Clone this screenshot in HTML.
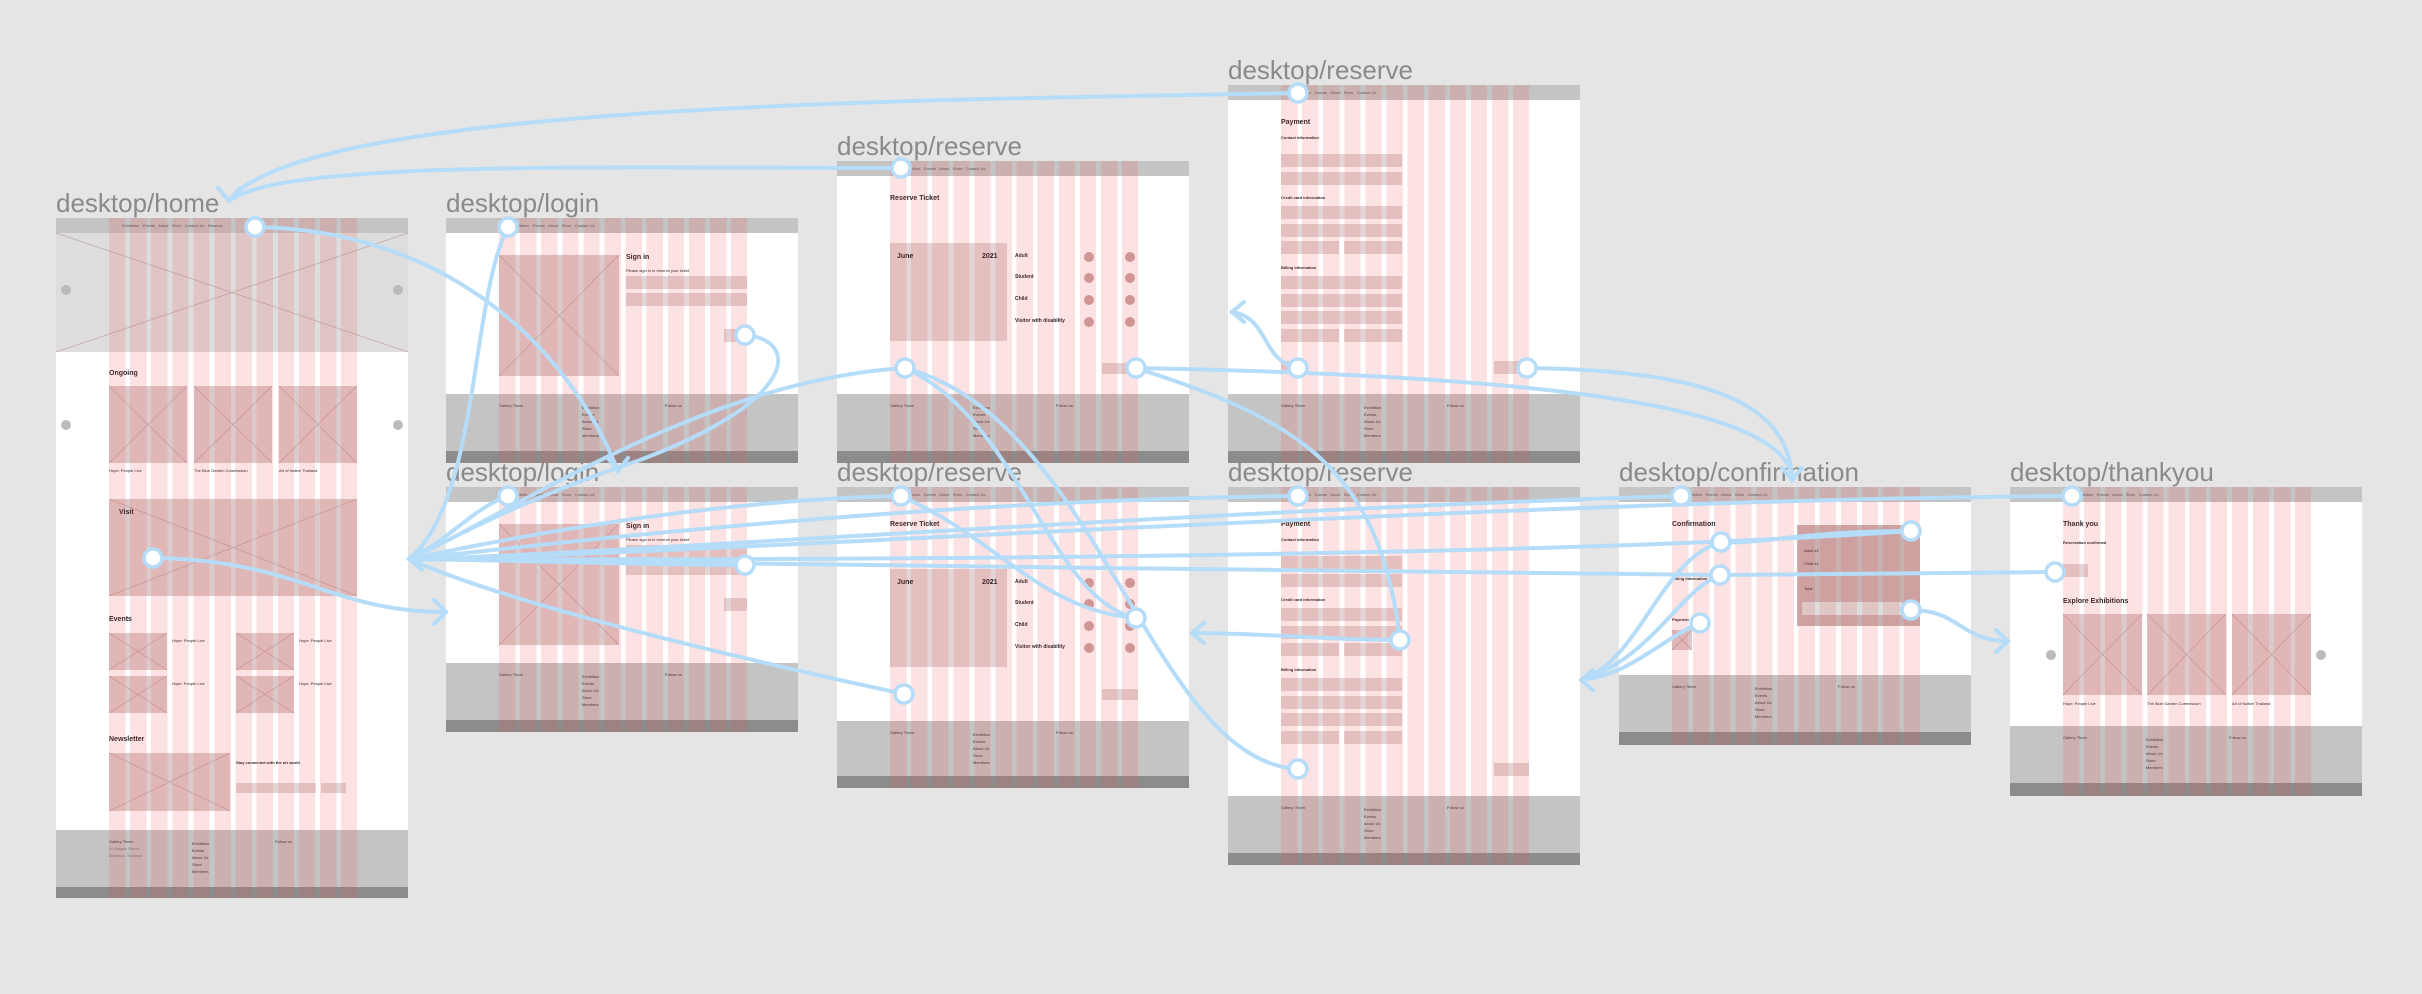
<!DOCTYPE html>
<html><head><meta charset="utf-8"><style>
*{margin:0;padding:0;box-sizing:border-box}
body{width:2422px;height:994px;background:#e5e5e5;position:relative;overflow:hidden;font-family:"Liberation Sans",sans-serif}
.lbl{position:absolute;font-size:26px;color:#8a8a8a;line-height:1}
.f{position:absolute;background:#fff;overflow:hidden}
.f>div{position:absolute}
.h{left:0;top:0;right:0;height:15px;background:#c4c4c4}
.ft{left:0;right:0;background:#c4c4c4}
.bb{left:0;right:0;background:#8c8c8c}
.g{top:0;bottom:0;left:53px;width:248px;background:repeating-linear-gradient(90deg,rgba(240,80,80,.17) 0 16.3px,transparent 16.3px 21.1px);z-index:5}
.b{background:#e3d5d5}
.x{background-color:#dccaca;background-image:linear-gradient(to top right,transparent calc(50% - .6px),#b99 50%,transparent calc(50% + .6px)),linear-gradient(to bottom right,transparent calc(50% - .6px),#b99 50%,transparent calc(50% + .6px))}
.t{font-size:7px;font-weight:bold;color:#222;white-space:nowrap}
.s{font-size:4px;color:#666;white-space:nowrap}
.c{width:10px;height:10px;border-radius:50%;background:#bbb}
.nav{top:5px;font-size:4px;color:#555;white-space:nowrap}
.fs{font-size:4px;color:#333;white-space:nowrap;line-height:7px;z-index:2}
</style></head><body>

<div class="lbl" style="left:56px;top:190px">desktop/home</div>
<div class="lbl" style="left:446px;top:190px">desktop/login</div>
<div class="lbl" style="left:446px;top:459px">desktop/login</div>
<div class="lbl" style="left:837px;top:133px">desktop/reserve</div>
<div class="lbl" style="left:837px;top:459px">desktop/reserve</div>
<div class="lbl" style="left:1228px;top:57px">desktop/reserve</div>
<div class="lbl" style="left:1228px;top:459px">desktop/reserve</div>
<div class="lbl" style="left:1619px;top:459px">desktop/confirmation</div>
<div class="lbl" style="left:2010px;top:459px">desktop/thankyou</div>

<!-- HOME -->
<div class="f" style="left:56px;top:218px;width:352px;height:680px">
<div class="h"></div><div class="nav" style="left:66px">Exhibition &nbsp; Events &nbsp; About &nbsp; Store &nbsp; Contact Us &nbsp; Reserve</div>
<div class="x" style="left:0;top:15px;width:352px;height:119px;background-color:#ddd"></div>
<div class="c" style="left:5px;top:67px"></div><div class="c" style="left:337px;top:67px"></div>
<div class="t" style="left:53px;top:152px">Ongoing</div>
<div class="x" style="left:53px;top:168px;width:78px;height:77px"></div>
<div class="x" style="left:138px;top:168px;width:78px;height:77px"></div>
<div class="x" style="left:223px;top:168px;width:78px;height:77px"></div>
<div class="c" style="left:5px;top:202px"></div><div class="c" style="left:337px;top:202px"></div>
<div class="s" style="left:53px;top:250px;color:#222">Hope: People Live</div>
<div class="s" style="left:138px;top:250px;color:#222">The Blue Garden Commission</div>
<div class="s" style="left:223px;top:250px;color:#222">Art of Native Thailand</div>
<div class="x" style="left:53px;top:281px;width:248px;height:97px"></div>
<div class="t" style="left:63px;top:291px">Visit</div>
<div class="t" style="left:53px;top:398px">Events</div>
<div class="x" style="left:53px;top:415px;width:58px;height:37px"></div>
<div class="x" style="left:53px;top:458px;width:58px;height:37px"></div>
<div class="x" style="left:180px;top:415px;width:58px;height:37px"></div>
<div class="x" style="left:180px;top:458px;width:58px;height:37px"></div>
<div class="s" style="left:116px;top:420px;color:#222">Hope: People Live</div>
<div class="s" style="left:243px;top:420px;color:#222">Hope: People Live</div>
<div class="s" style="left:116px;top:463px;color:#222">Hope: People Live</div>
<div class="s" style="left:243px;top:463px;color:#222">Hope: People Live</div>
<div class="t" style="left:53px;top:518px">Newsletter</div>
<div class="x" style="left:53px;top:535px;width:121px;height:58px"></div>
<div class="s" style="left:180px;top:542px;color:#222;font-weight:bold">Stay connected with the art world</div>
<div class="b" style="left:180px;top:565px;width:80px;height:10px"></div>
<div class="b" style="left:265px;top:565px;width:25px;height:10px"></div>
<div class="ft" style="top:612px;height:57px"></div><div class="bb" style="top:669px;height:11px"></div>
<div class="fs" style="left:53px;top:620px">Gallery Thorn<br><span style="color:#777">95 Sayam Street<br>Bangkok, Thailand</span></div>
<div class="fs" style="left:136px;top:622px">Exhibition<br>Events<br>About Us<br>Store<br>Members</div>
<div class="fs" style="left:219px;top:620px">Follow us</div>
<div class="g"></div></div>

<!-- LOGIN 1 -->
<div class="f" style="left:446px;top:218px;width:352px;height:245px">
<div class="h"></div><div class="nav" style="left:66px">Exhibition &nbsp; Events &nbsp; About &nbsp; Store &nbsp; Contact Us</div>
<div class="x" style="left:53px;top:37px;width:120px;height:121px"></div>
<div class="t" style="left:180px;top:36px">Sign in</div>
<div class="s" style="left:180px;top:50px;color:#222">Please sign in to reserve your ticket</div>
<div class="b" style="left:180px;top:58px;width:121px;height:13px"></div>
<div class="b" style="left:180px;top:75px;width:121px;height:13px"></div>
<div class="b" style="left:278px;top:111px;width:23px;height:13px"></div>
<div class="ft" style="top:176px;height:57px"></div><div class="bb" style="top:233px;height:12px"></div>
<div class="fs" style="left:53px;top:184px">Gallery Thorn</div><div class="fs" style="left:136px;top:186px">Exhibition<br>Events<br>About Us<br>Store<br>Members</div><div class="fs" style="left:219px;top:184px">Follow us</div>
<div class="g"></div></div>

<!-- LOGIN 2 -->
<div class="f" style="left:446px;top:487px;width:352px;height:245px">
<div class="h"></div><div class="nav" style="left:66px">Exhibition &nbsp; Events &nbsp; About &nbsp; Store &nbsp; Contact Us</div>
<div class="x" style="left:53px;top:37px;width:120px;height:121px"></div>
<div class="t" style="left:180px;top:36px">Sign in</div>
<div class="s" style="left:180px;top:50px;color:#222">Please sign in to reserve your ticket</div>
<div class="b" style="left:180px;top:58px;width:121px;height:13px"></div>
<div class="b" style="left:180px;top:75px;width:121px;height:13px"></div>
<div class="b" style="left:278px;top:111px;width:23px;height:13px"></div>
<div class="ft" style="top:176px;height:57px"></div><div class="bb" style="top:233px;height:12px"></div>
<div class="fs" style="left:53px;top:184px">Gallery Thorn</div><div class="fs" style="left:136px;top:186px">Exhibition<br>Events<br>About Us<br>Store<br>Members</div><div class="fs" style="left:219px;top:184px">Follow us</div>
<div class="g"></div></div>

<!-- RESERVE 1 -->
<div class="f" style="left:837px;top:161px;width:352px;height:302px">
<div class="h"></div><div class="nav" style="left:66px">Exhibition &nbsp; Events &nbsp; About &nbsp; Store &nbsp; Contact Us</div>
<div class="t" style="left:53px;top:34px">Reserve Ticket</div>
<div class="b" style="left:53px;top:82px;width:117px;height:98px"></div>
<div class="t" style="left:60px;top:92px">June</div><div class="t" style="left:145px;top:92px">2021</div>
<div class="t" style="left:178px;top:92px;font-size:5px">Adult</div>
<div class="t" style="left:178px;top:113px;font-size:5px">Student</div>
<div class="t" style="left:178px;top:135px;font-size:5px">Child</div>
<div class="t" style="left:178px;top:157px;font-size:5px">Visitor with disability</div>
<div class="c" style="left:247px;top:91px;background:#c9a3a3"></div><div class="c" style="left:288px;top:91px;background:#c9a3a3"></div>
<div class="c" style="left:247px;top:112px;background:#c9a3a3"></div><div class="c" style="left:288px;top:112px;background:#c9a3a3"></div>
<div class="c" style="left:247px;top:134px;background:#c9a3a3"></div><div class="c" style="left:288px;top:134px;background:#c9a3a3"></div>
<div class="c" style="left:247px;top:156px;background:#c9a3a3"></div><div class="c" style="left:288px;top:156px;background:#c9a3a3"></div>
<div class="b" style="left:265px;top:202px;width:36px;height:11px"></div>
<div class="ft" style="top:233px;height:57px"></div><div class="bb" style="top:290px;height:12px"></div>
<div class="fs" style="left:53px;top:241px">Gallery Thorn</div><div class="fs" style="left:136px;top:243px">Exhibition<br>Events<br>About Us<br>Store<br>Members</div><div class="fs" style="left:219px;top:241px">Follow us</div>
<div class="g"></div></div>

<!-- RESERVE 2 -->
<div class="f" style="left:837px;top:487px;width:352px;height:301px">
<div class="h"></div><div class="nav" style="left:66px">Exhibition &nbsp; Events &nbsp; About &nbsp; Store &nbsp; Contact Us</div>
<div class="t" style="left:53px;top:34px">Reserve Ticket</div>
<div class="b" style="left:53px;top:82px;width:117px;height:98px"></div>
<div class="t" style="left:60px;top:92px">June</div><div class="t" style="left:145px;top:92px">2021</div>
<div class="t" style="left:178px;top:92px;font-size:5px">Adult</div>
<div class="t" style="left:178px;top:113px;font-size:5px">Student</div>
<div class="t" style="left:178px;top:135px;font-size:5px">Child</div>
<div class="t" style="left:178px;top:157px;font-size:5px">Visitor with disability</div>
<div class="c" style="left:247px;top:91px;background:#c9a3a3"></div><div class="c" style="left:288px;top:91px;background:#c9a3a3"></div>
<div class="c" style="left:247px;top:112px;background:#c9a3a3"></div><div class="c" style="left:288px;top:112px;background:#c9a3a3"></div>
<div class="c" style="left:247px;top:134px;background:#c9a3a3"></div><div class="c" style="left:288px;top:134px;background:#c9a3a3"></div>
<div class="c" style="left:247px;top:156px;background:#c9a3a3"></div><div class="c" style="left:288px;top:156px;background:#c9a3a3"></div>
<div class="b" style="left:265px;top:202px;width:36px;height:11px"></div>
<div class="ft" style="top:234px;height:55px"></div><div class="bb" style="top:289px;height:12px"></div>
<div class="fs" style="left:53px;top:242px">Gallery Thorn</div><div class="fs" style="left:136px;top:244px">Exhibition<br>Events<br>About Us<br>Store<br>Members</div><div class="fs" style="left:219px;top:242px">Follow us</div>
<div class="g"></div></div>

<!-- PAYMENT 1 -->
<div class="f" style="left:1228px;top:85px;width:352px;height:378px">
<div class="h"></div><div class="nav" style="left:66px">Exhibition &nbsp; Events &nbsp; About &nbsp; Store &nbsp; Contact Us</div>
<div class="t" style="left:53px;top:34px">Payment</div>
<div class="s" style="left:53px;top:50px;color:#222;font-weight:bold">Contact information</div>
<div class="b" style="left:53px;top:69px;width:121px;height:13px"></div>
<div class="b" style="left:53px;top:87px;width:121px;height:13px"></div>
<div class="s" style="left:53px;top:110px;color:#222;font-weight:bold">Credit card information</div>
<div class="b" style="left:53px;top:121px;width:121px;height:13px"></div>
<div class="b" style="left:53px;top:139px;width:121px;height:13px"></div>
<div class="b" style="left:53px;top:156px;width:58px;height:13px"></div><div class="b" style="left:116px;top:156px;width:58px;height:13px"></div>
<div class="s" style="left:53px;top:180px;color:#222;font-weight:bold">Billing information</div>
<div class="b" style="left:53px;top:191px;width:121px;height:13px"></div>
<div class="b" style="left:53px;top:209px;width:121px;height:13px"></div>
<div class="b" style="left:53px;top:226px;width:121px;height:13px"></div>
<div class="b" style="left:53px;top:244px;width:58px;height:13px"></div><div class="b" style="left:116px;top:244px;width:58px;height:13px"></div>
<div class="b" style="left:53px;top:276px;width:20px;height:13px"></div>
<div class="b" style="left:266px;top:276px;width:35px;height:13px"></div>
<div class="ft" style="top:309px;height:57px"></div><div class="bb" style="top:366px;height:12px"></div>
<div class="fs" style="left:53px;top:317px">Gallery Thorn</div><div class="fs" style="left:136px;top:319px">Exhibition<br>Events<br>About Us<br>Store<br>Members</div><div class="fs" style="left:219px;top:317px">Follow us</div>
<div class="g"></div></div>

<!-- PAYMENT 2 -->
<div class="f" style="left:1228px;top:487px;width:352px;height:378px">
<div class="h"></div><div class="nav" style="left:66px">Exhibition &nbsp; Events &nbsp; About &nbsp; Store &nbsp; Contact Us</div>
<div class="t" style="left:53px;top:34px">Payment</div>
<div class="s" style="left:53px;top:50px;color:#222;font-weight:bold">Contact information</div>
<div class="b" style="left:53px;top:69px;width:121px;height:13px"></div>
<div class="b" style="left:53px;top:87px;width:121px;height:13px"></div>
<div class="s" style="left:53px;top:110px;color:#222;font-weight:bold">Credit card information</div>
<div class="b" style="left:53px;top:121px;width:121px;height:13px"></div>
<div class="b" style="left:53px;top:139px;width:121px;height:13px"></div>
<div class="b" style="left:53px;top:156px;width:58px;height:13px"></div><div class="b" style="left:116px;top:156px;width:58px;height:13px"></div>
<div class="s" style="left:53px;top:180px;color:#222;font-weight:bold">Billing information</div>
<div class="b" style="left:53px;top:191px;width:121px;height:13px"></div>
<div class="b" style="left:53px;top:209px;width:121px;height:13px"></div>
<div class="b" style="left:53px;top:226px;width:121px;height:13px"></div>
<div class="b" style="left:53px;top:244px;width:58px;height:13px"></div><div class="b" style="left:116px;top:244px;width:58px;height:13px"></div>
<div class="b" style="left:266px;top:276px;width:35px;height:13px"></div>
<div class="ft" style="top:309px;height:57px"></div><div class="bb" style="top:366px;height:12px"></div>
<div class="fs" style="left:53px;top:317px">Gallery Thorn</div><div class="fs" style="left:136px;top:319px">Exhibition<br>Events<br>About Us<br>Store<br>Members</div><div class="fs" style="left:219px;top:317px">Follow us</div>
<div class="g"></div></div>

<!-- CONFIRMATION -->
<div class="f" style="left:1619px;top:487px;width:352px;height:258px">
<div class="h"></div><div class="nav" style="left:66px">Exhibition &nbsp; Events &nbsp; About &nbsp; Store &nbsp; Contact Us</div>
<div class="t" style="left:53px;top:34px">Confirmation</div>
<div class="s" style="left:53px;top:53px;color:#222;font-weight:bold">Contact information</div>
<div class="s" style="left:53px;top:89px;color:#222;font-weight:bold">Billing information</div>
<div class="s" style="left:53px;top:130px;color:#222;font-weight:bold">Payment</div>
<div class="x" style="left:53px;top:143px;width:20px;height:20px"></div>
<div class="b" style="left:178px;top:38px;width:123px;height:101px;background:#c8b0b0"></div>
<div class="s" style="left:185px;top:61px;color:#222">Adult x1</div>
<div class="s" style="left:185px;top:74px;color:#222">Child x1</div>
<div class="s" style="left:185px;top:99px;color:#222">Total</div>
<div class="b" style="left:183px;top:115px;width:100px;height:13px;background:#ddd"></div>
<div class="ft" style="top:188px;height:57px"></div><div class="bb" style="top:245px;height:13px"></div>
<div class="fs" style="left:53px;top:196px">Gallery Thorn</div><div class="fs" style="left:136px;top:198px">Exhibition<br>Events<br>About Us<br>Store<br>Members</div><div class="fs" style="left:219px;top:196px">Follow us</div>
<div class="g"></div></div>

<!-- THANKYOU -->
<div class="f" style="left:2010px;top:487px;width:352px;height:309px">
<div class="h"></div><div class="nav" style="left:66px">Exhibition &nbsp; Events &nbsp; About &nbsp; Store &nbsp; Contact Us</div>
<div class="t" style="left:53px;top:34px">Thank you</div>
<div class="s" style="left:53px;top:53px;color:#222;font-weight:bold">Reservation confirmed</div>
<div class="b" style="left:53px;top:77px;width:25px;height:13px"></div>
<div class="t" style="left:53px;top:111px">Explore Exhibitions</div>
<div class="x" style="left:53px;top:127px;width:79px;height:81px"></div>
<div class="x" style="left:137px;top:127px;width:79px;height:81px"></div>
<div class="x" style="left:222px;top:127px;width:79px;height:81px"></div>
<div class="c" style="left:36px;top:163px"></div><div class="c" style="left:306px;top:163px"></div>
<div class="s" style="left:53px;top:214px;color:#222">Hope: People Live</div>
<div class="s" style="left:137px;top:214px;color:#222">The Blue Garden Commission</div>
<div class="s" style="left:222px;top:214px;color:#222">Art of Native Thailand</div>
<div class="ft" style="top:239px;height:57px"></div><div class="bb" style="top:296px;height:13px"></div>
<div class="fs" style="left:53px;top:247px">Gallery Thorn</div><div class="fs" style="left:136px;top:249px">Exhibition<br>Events<br>About Us<br>Store<br>Members</div><div class="fs" style="left:219px;top:247px">Follow us</div>
<div class="g"></div></div>

<svg width="2422" height="994" style="position:absolute;left:0;top:0;z-index:10" fill="none" stroke="#b5dcf8" stroke-width="4" stroke-linecap="round">
<path d="M1298,93 C900,100 300,105 229,201"/>
<path d="M901,168 C600,168 280,160 229,201"/>
<path d="M218,188 L229,201 L240,188"/>
<path d="M255,227 C450,230 570,350 618,471"/>
<path d="M608,458 L618,471 L628,458"/>
<path d="M508,227 C470,300 480,500 409,559"/>
<path d="M508,496 C470,510 450,540 409,559"/>
<path d="M905,368 C700,380 500,520 409,559"/>
<path d="M745,335 C800,340 800,400 640,460 C520,500 450,540 409,559"/>
<path d="M901,496 C700,500 500,540 409,559"/>
<path d="M1298,496 C900,500 500,550 409,559"/>
<path d="M1681,496 C1200,510 600,555 409,559"/>
<path d="M2072,496 C1500,500 700,555 409,559"/>
<path d="M1911,531 C1500,560 700,560 409,559"/>
<path d="M745,565 C650,565 500,560 409,559"/>
<path d="M1720,575 C1500,575 600,560 409,559"/>
<path d="M2055,572 L1720,575"/>
<path d="M422,548 L409,559 L422,570"/>
<path d="M153,558 C300,560 330,612 446,612"/>
<path d="M434,600 L446,612 L434,624"/>
<path d="M1136,368 C1500,375 1790,400 1792,480"/>
<path d="M1527,368 C1700,370 1790,400 1792,480"/>
<path d="M1782,468 L1792,480 L1802,468"/>
<path d="M1298,368 C1260,360 1270,318 1232,312"/>
<path d="M1244,302 L1232,312 L1244,322"/>
<path d="M905,368 C1020,420 1050,600 1136,618"/>
<path d="M901,496 C1000,540 1040,610 1136,618"/>
<path d="M1400,640 C1380,470 1300,420 1136,368"/>
<path d="M1400,640 C1330,640 1260,633 1192,633"/>
<path d="M1204,623 L1192,633 L1204,643"/>
<path d="M905,368 C1100,420 1150,760 1298,769"/>
<path d="M904,694 C700,650 500,600 409,559"/>
<path d="M1721,542 C1660,560 1640,660 1581,680"/>
<path d="M1720,575 C1680,590 1650,660 1581,680"/>
<path d="M1700,623 C1660,640 1630,675 1581,680"/>
<path d="M1911,531 C1800,531 1760,545 1721,542"/>
<path d="M1593,670 L1581,680 L1593,690"/>
<path d="M1911,610 C1960,610 1960,641 2008,641"/>
<path d="M1996,630 L2008,641 L1996,652"/>
<g fill="#fff" stroke-width="3.5">
<circle cx="255" cy="227" r="9"/><circle cx="153" cy="558" r="9"/>
<circle cx="508" cy="227" r="9"/><circle cx="745" cy="335" r="9"/>
<circle cx="508" cy="496" r="9"/><circle cx="745" cy="565" r="9"/>
<circle cx="901" cy="168" r="9"/><circle cx="905" cy="368" r="9"/><circle cx="1136" cy="368" r="9"/>
<circle cx="901" cy="496" r="9"/><circle cx="904" cy="694" r="9"/><circle cx="1136" cy="618" r="9"/>
<circle cx="1298" cy="93" r="9"/><circle cx="1298" cy="368" r="9"/><circle cx="1527" cy="368" r="9"/>
<circle cx="1298" cy="496" r="9"/><circle cx="1400" cy="640" r="9"/><circle cx="1298" cy="769" r="9"/>
<circle cx="1681" cy="496" r="9"/><circle cx="1721" cy="542" r="9"/><circle cx="1720" cy="575" r="9"/><circle cx="1700" cy="623" r="9"/>
<circle cx="1911" cy="531" r="9"/><circle cx="1911" cy="610" r="9"/>
<circle cx="2072" cy="496" r="9"/><circle cx="2055" cy="572" r="9"/>
</g>
</svg>
</body></html>
